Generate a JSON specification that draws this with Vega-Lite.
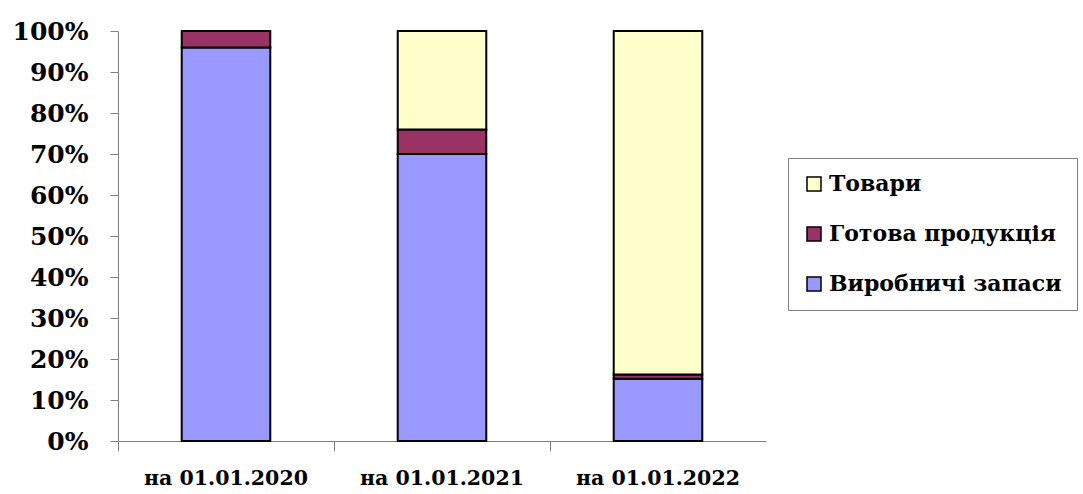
{
  "$schema": "https://vega.github.io/schema/vega-lite/v6.json",
  "width": 648,
  "height": 410,
  "autosize": "none",
  "padding": {"left": 118, "top": 31, "right": 317, "bottom": 53},
  "background": "white",
  "config": {
    "view": {"stroke": null},
    "font": "DejaVu Serif"
  },
  "data": {
    "values": [
      {"date": "на 01.01.2020", "series": "Виробничі запаси", "value": 96},
      {"date": "на 01.01.2020", "series": "Готова продукція", "value": 4},
      {"date": "на 01.01.2020", "series": "Товари", "value": 0},
      {"date": "на 01.01.2021", "series": "Виробничі запаси", "value": 70},
      {"date": "на 01.01.2021", "series": "Готова продукція", "value": 6},
      {"date": "на 01.01.2021", "series": "Товари", "value": 24},
      {"date": "на 01.01.2022", "series": "Виробничі запаси", "value": 15.2},
      {"date": "на 01.01.2022", "series": "Готова продукція", "value": 1},
      {"date": "на 01.01.2022", "series": "Товари", "value": 83.8}
    ]
  },
  "mark": {"type": "bar", "width": {"band": 0.41}, "stroke": "black", "strokeWidth": 2},
  "encoding": {
    "x": {
      "field": "date",
      "type": "nominal",
      "title": null,
      "sort": null,
      "scale": {"paddingInner": 0, "paddingOuter": 0},
      "axis": {
        "labelAngle": 0,
        "bandPosition": 0,
        "labelFont": "DejaVu Serif",
        "labelFontWeight": "bold",
        "labelFontSize": 20.5,
        "labelColor": "black",
        "labelLimit": 400,
        "labelPadding": 17,
        "tickSize": 10,
        "tickColor": "#808080",
        "domainColor": "#808080",
        "grid": false
      }
    },
    "y": {
      "field": "value",
      "type": "quantitative",
      "stack": "normalize",
      "title": null,
      "scale": {"domain": [0, 1]},
      "axis": {
        "values": [0, 0.1, 0.2, 0.3, 0.4, 0.5, 0.6, 0.7, 0.8, 0.9, 1],
        "format": ".0%",
        "labelFont": "DejaVu Serif",
        "labelFontWeight": "bold",
        "labelFontSize": 25,
        "labelColor": "black",
        "labelPadding": 22,
        "tickSize": 8,
        "tickColor": "#808080",
        "domainColor": "#808080",
        "grid": false
      }
    },
    "color": {
      "field": "series",
      "type": "nominal",
      "scale": {
        "domain": ["Товари", "Готова продукція", "Виробничі запаси"],
        "range": ["#FFFFCC", "#993366", "#9999FF"]
      },
      "legend": {
        "title": null,
        "orient": "none",
        "legendX": 670,
        "legendY": 127,
        "strokeColor": "#808080",
        "fillColor": "white",
        "padding": 15,
        "rowPadding": 28,
        "symbolType": "square",
        "symbolSize": 196,
        "symbolStrokeColor": "black",
        "symbolStrokeWidth": 1.5,
        "labelFont": "DejaVu Serif",
        "labelFontWeight": "bold",
        "labelFontSize": 22,
        "labelColor": "black",
        "labelOffset": 4,
        "labelLimit": 400
      }
    },
    "order": {"field": "series", "sort": "ascending"}
  }
}
